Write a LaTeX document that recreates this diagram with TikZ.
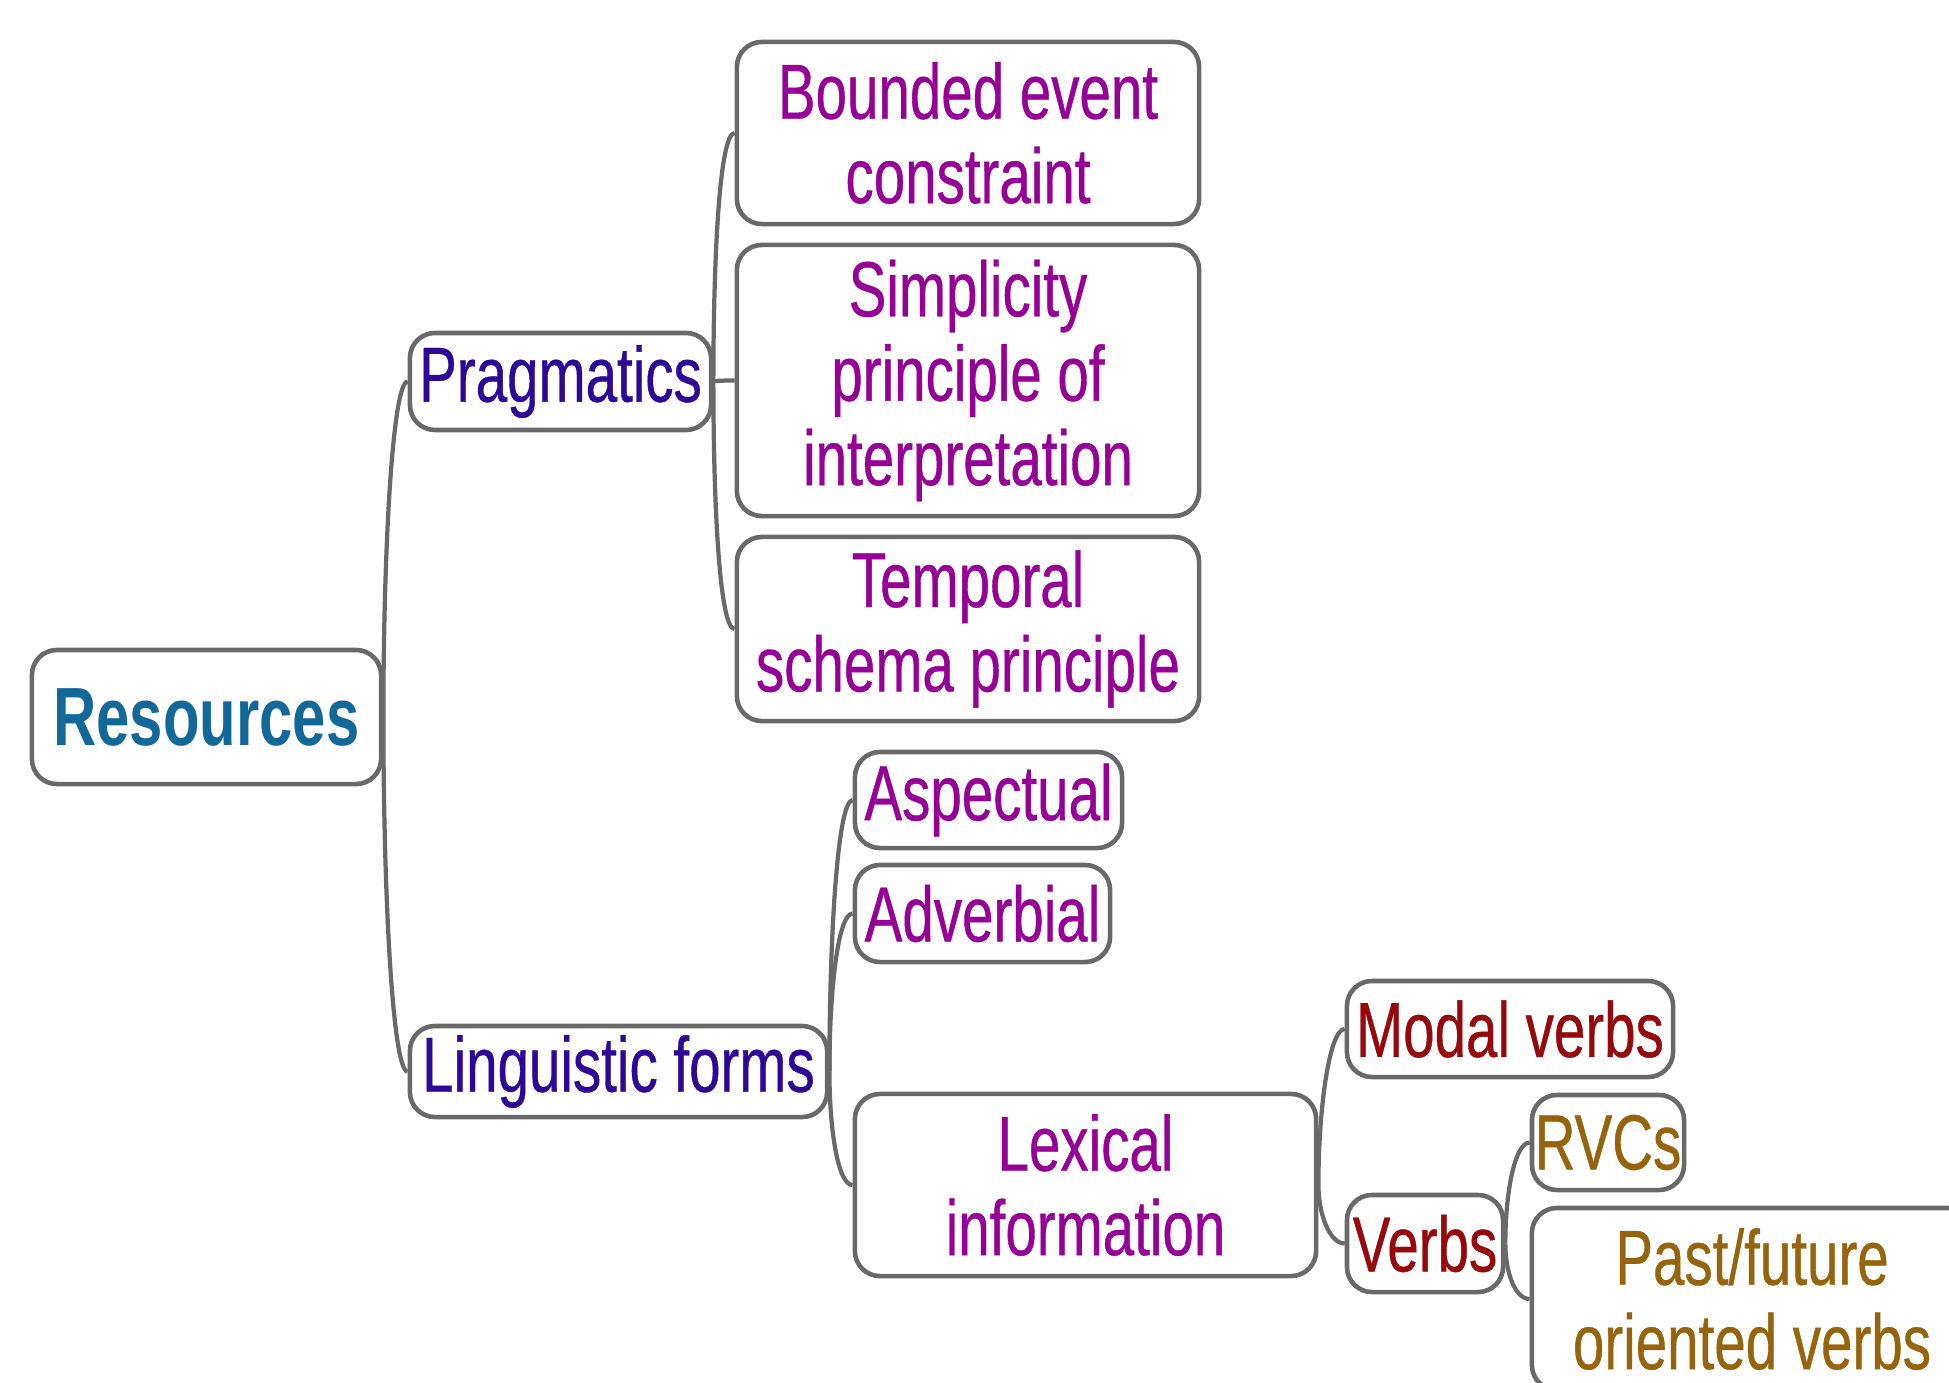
\documentclass[tikz,border=0pt]{standalone}
\usepackage{fontspec}
\setmainfont{Liberation Sans}[FakeStretch=0.724, UprightFeatures={FakeBold=0.5}]
\usetikzlibrary{calc}
\definecolor{resblue}{RGB}{18,104,152}
\definecolor{indigo}{RGB}{45,8,150}
\definecolor{purp}{RGB}{150,0,150}
\definecolor{dred}{RGB}{150,8,12}
\definecolor{ochre}{RGB}{150,100,12}
\definecolor{edgegray}{RGB}{105,105,105}
\newcommand\mmlink[2]{\draw[conn] (#1.east) .. controls ($(#1.east)!0.5!(#1.east|-#2.west)$) and ($(#2.west)+(-15,0)$) .. (#2.west);}
\begin{document}
\begin{tikzpicture}[x=0.01cm,y=-0.01cm,
  box/.style={draw=edgegray, line width=1.3pt, rounded corners=0.25cm, fill=white,
    inner sep=0pt, align=center, font=\fontsize{22.2}{24}\selectfont},
  conn/.style={draw=edgegray, line width=1.2pt}]
\clip (0,0) rectangle (1949,1382);
\fill[white] (0,0) rectangle (1949,1382);
% nodes
\node[box, minimum width=3.49cm, minimum height=1.34cm, text=resblue,
  font=\fontsize{23.5}{24}\selectfont\bfseries] (res) at (206.5,717) {Resources};
\node[box, minimum width=3.01cm, minimum height=0.97cm, text=indigo] (prag) at (560.5,381.5) {Pragmatics};
\node[box, minimum width=4.62cm, minimum height=1.82cm, text=purp] (bound) at (968,133) {Bounded event\\constraint};
\node[box, minimum width=4.62cm, minimum height=2.71cm, text=purp] (simp) at (968,380.5) {Simplicity\\principle of\\interpretation};
\node[box, minimum width=4.62cm, minimum height=1.84cm, text=purp] (temp) at (968,629) {Temporal\\schema principle};
\node[box, minimum width=2.67cm, minimum height=0.96cm, text=purp] (asp) at (988.5,800) {Aspectual};
\node[box, minimum width=2.55cm, minimum height=0.97cm, text=purp] (adv) at (982.5,913.5) {Adverbial};
\node[box, minimum width=4.17cm, minimum height=0.91cm, text=indigo] (ling) at (618.5,1071.5) {Linguistic forms};
\node[box, minimum width=4.61cm, minimum height=1.82cm, text=purp] (lex) at (1085.5,1185) {Lexical\\information};
\node[box, minimum width=3.26cm, minimum height=0.96cm, text=dred] (modal) at (1510,1029) {Modal verbs};
\node[box, minimum width=1.56cm, minimum height=0.97cm, text=dred] (verbs) at (1425,1243.5) {Verbs};
\node[box, minimum width=1.52cm, minimum height=0.95cm, text=ochre] (rvcs) at (1608,1142.5) {RVCs};
\node[box, minimum width=4.40cm, minimum height=1.82cm, text=ochre] (past) at (1752,1299) {Past/future\\oriented verbs};
% connectors
\mmlink{res}{prag}
\mmlink{res}{ling}
\mmlink{prag}{bound}
\mmlink{prag}{simp}
\mmlink{prag}{temp}
\mmlink{ling}{asp}
\mmlink{ling}{adv}
\mmlink{ling}{lex}
\mmlink{lex}{modal}
\mmlink{lex}{verbs}
\mmlink{verbs}{rvcs}
\mmlink{verbs}{past}
\end{tikzpicture}
\end{document}
